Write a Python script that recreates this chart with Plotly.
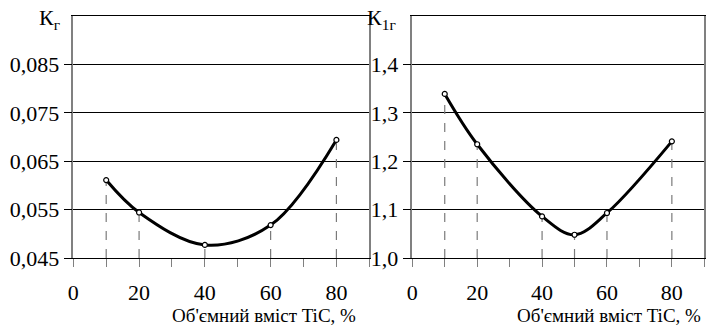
import plotly.graph_objects as go

# Data
x_left = [10, 20, 40, 60, 80]
k_g = [0.0611, 0.0544, 0.0477, 0.0518, 0.0694]
x_right = [10, 20, 40, 50, 60, 80]
k_1g = [1.339, 1.235, 1.086, 1.048, 1.093, 1.241]

x_tickvals = [0, 20, 40, 60, 80]
x_ticktext = ["0", "20", "40", "60", "80"]
x_minor_step = 10
yl_tickvals = [0.045, 0.055, 0.065, 0.075, 0.085]
yl_ticktext = ["0,045", "0,055", "0,065", "0,075", "0,085"]
yr_tickvals = [1.0, 1.1, 1.2, 1.3, 1.4]
yr_ticktext = ["1,0", "1,1", "1,2", "1,3", "1,4"]
x_title = "Об'ємний вміст TiC, %"

FONT = "Liberation Serif"
FS = 22
fig = go.Figure()


def add_panel(xs, ys, xa, ya, ymin):
    # dashed drop lines
    for xv, yv in zip(xs, ys):
        fig.add_trace(go.Scatter(x=[xv, xv], y=[ymin, yv], mode="lines",
                                 line=dict(color="#7a7a7a", width=1.2, dash="dash"),
                                 xaxis=xa, yaxis=ya, showlegend=False, hoverinfo="skip"))
    fig.add_trace(go.Scatter(x=xs, y=ys, mode="lines",
                             line=dict(color="black", width=3, shape="spline", smoothing=1),
                             xaxis=xa, yaxis=ya, showlegend=False))
    fig.add_trace(go.Scatter(x=xs, y=ys, mode="markers",
                             marker=dict(symbol="circle", size=5, color="white",
                                         line=dict(color="black", width=1.2)),
                             xaxis=xa, yaxis=ya, showlegend=False))


add_panel(x_left, k_g, "x", "y", yl_tickvals[0])
add_panel(x_right, k_1g, "x2", "y2", yr_tickvals[0])

xcommon = dict(range=[0, 90], tickmode="array", tickvals=x_tickvals, ticktext=x_ticktext,
               ticks="outside", ticklen=8, tickcolor="#808080", tickwidth=1.3,
               minor=dict(ticks="outside", ticklen=8, tickcolor="#808080", tickwidth=1.3,
                          tick0=0, dtick=x_minor_step, showgrid=False),
               ticklabelstandoff=6, automargin=False,
               showgrid=False, zeroline=False, showline=True, linecolor="black",
               linewidth=1.3, mirror=True,
               tickfont=dict(family=FONT, size=FS, color="black"))
ycommon = dict(tickmode="array", ticks="outside", ticklen=8, tickcolor="black", tickwidth=1.3,
               automargin=False,
               showgrid=True, gridcolor="black", gridwidth=1.3, zeroline=False,
               showline=True, linecolor="#808080", linewidth=1.5, mirror=True,
               tickfont=dict(family=FONT, size=FS, color="black"))

fig.update_layout(
    width=719, height=328,
    font=dict(family=FONT, size=FS, color="black"),
    margin=dict(l=0, r=0, t=0, b=0, autoexpand=False),
    paper_bgcolor="white", plot_bgcolor="white",
    xaxis=dict(domain=[73.3 / 719, 369.3 / 719], anchor="y", **xcommon),
    xaxis2=dict(domain=[412.3 / 719, 704.3 / 719], anchor="y2", **xcommon),
    yaxis=dict(domain=[1 - 258 / 328, 1 - 16 / 328], anchor="x", range=[0.045, 0.095],
               tickvals=yl_tickvals, ticktext=yl_ticktext, **ycommon),
    yaxis2=dict(domain=[1 - 258 / 328, 1 - 16 / 328], anchor="x2", range=[1.0, 1.5],
                tickvals=yr_tickvals, ticktext=yr_ticktext, **ycommon),
    annotations=[
        dict(text="К<sub>г</sub>", xref="paper", yref="paper", x=62 / 719, y=1 - 19 / 328,
             xanchor="right", yanchor="middle", showarrow=False,
             font=dict(family=FONT, size=FS, color="black")),
        dict(text="К<sub>1г</sub>", xref="paper", yref="paper", x=398 / 719, y=1 - 19 / 328,
             xanchor="right", yanchor="middle", showarrow=False,
             font=dict(family=FONT, size=FS, color="black")),
        dict(text=x_title, xref="paper", yref="paper", x=358 / 719, y=0,
             xanchor="right", yanchor="bottom", showarrow=False,
             font=dict(family=FONT, size=19, color="black")),
        dict(text=x_title, xref="paper", yref="paper", x=703 / 719, y=0,
             xanchor="right", yanchor="bottom", showarrow=False,
             font=dict(family=FONT, size=19, color="black")),
    ],
)

fig.write_html("out.html")
